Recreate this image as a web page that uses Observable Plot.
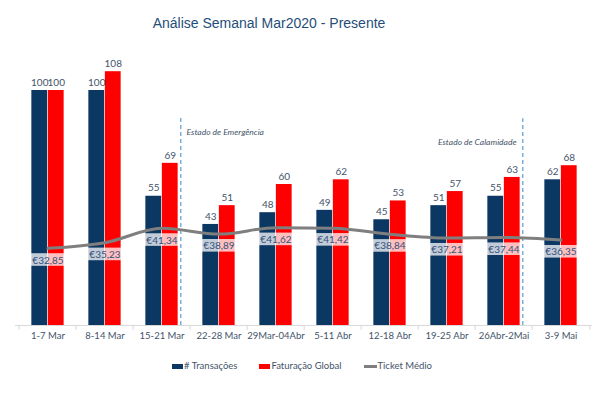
<!DOCTYPE html>
<html><head><meta charset="utf-8">
<script src="https://cdn.jsdelivr.net/npm/d3@7"></script>
<script src="https://cdn.jsdelivr.net/npm/@observablehq/plot@0.6"></script>
<style>
body{margin:0;background:#fff;width:602px;height:393px;overflow:hidden;position:relative;font-family:Lato,sans-serif;}
#title{position:absolute;left:0;top:13px;width:538px;text-align:center;line-height:20px;font-family:"Liberation Sans",Arial,sans-serif;font-size:14px;color:#1f4e79;}
#chart{position:absolute;left:0;top:40px;}
#legend{position:absolute;left:172px;top:359px;display:flex;align-items:center;font-size:9.5px;color:#44546a;line-height:14px;}
.item{display:flex;align-items:center;margin-right:22px;}
.sw{display:inline-block;width:11px;height:5px;margin-right:1px;}
.ln{display:inline-block;width:13px;height:3px;background:#7f7f7f;margin-right:1px;}
</style></head><body>
<div id="title">Análise Semanal Mar2020 - Presente</div>
<div id="chart"></div>
<div id="legend">
  <div class="item"><span class="sw" style="background:#0b3763"></span># Transações</div>
  <div class="item"><span class="sw" style="background:#ff0000"></span>Faturação Global</div>
  <div class="item"><span class="ln"></span>Ticket Médio</div>
</div>
<script>
const weeks = ["1-7 Mar","8-14 Mar","15-21 Mar","22-28 Mar","29Mar-04Abr","5-11 Abr","12-18 Abr","19-25 Abr","26Abr-2Mai","3-9 Mai"];
const transacoes = [100,100,55,43,48,49,45,51,55,62];
const faturacao = [100,108,69,51,60,62,53,57,63,68];
const ticket = [32.85,35.23,41.34,38.89,41.62,41.42,38.84,37.21,37.44,36.35];
const marcoWeeks = ["15-21 Mar","26Abr-2Mai"];
const marcoLabels = ["Estado de Emergência","Estado de Calamidade"];
const marcoTop = [88.5,88];
const marcoLevel = [82.3,78];

const data = weeks.map((w,i)=>({week:w, trans:transacoes[i], fat:faturacao[i], ticket:ticket[i]}));
const marcos = marcoWeeks.map((w,i)=>({week:w, label:marcoLabels[i], top:marcoTop[i], level:marcoLevel[i]}));

const navy = "#0b3763", red = "#ff0000", labelColor = "#44546a";
const band = 57.7, barW = 16.5, outer = (band - 2*barW)/2;

const plot = Plot.plot({
  width: 602, height: 305,
  marginTop: 3, marginBottom: 20, marginLeft: 15, marginRight: 10,
  style: {fontFamily: "Lato, sans-serif", background: "transparent", overflow: "visible"},
  x: {type: "band", domain: weeks, padding: 0, axis: null, label: null},
  y: {domain: [0,120], axis: null},
  marks: [
    Plot.barY(data, {x:"week", y:"trans", fill:navy, insetLeft: outer, insetRight: outer+barW}),
    Plot.barY(data, {x:"week", y:"fat", fill:red, insetLeft: outer+barW, insetRight: outer}),
    Plot.ruleY([0], {stroke:"#d9d9d9"}),
    Plot.ruleX(weeks, {x: d=>d, dx: -band/2, y1: 0, y2: -2.1, stroke:"#d9d9d9"}),
    Plot.ruleX(weeks.slice(-1), {x: d=>d, dx: band/2, y1: 0, y2: -2.1, stroke:"#d9d9d9"}),
    Plot.axisX({tickSize:0, tickPadding:7, fontSize:9.5, fill:labelColor, label:null}),
    Plot.ruleX(marcos, {x:"week", dx: barW+2.3, y1: 0, y2: "top", stroke:"#5b9bd5", strokeWidth:1.2, strokeDasharray:"4,3"}),
    Plot.text(marcos.slice(0,1), {x:"week", y:"level", dx: barW+8, text:"label", textAnchor:"start", fontStyle:"italic", fontSize:8.5, fill:labelColor}),
    Plot.text(marcos.slice(1), {x:"week", y:"level", dx: barW-4, text:"label", textAnchor:"end", fontStyle:"italic", fontSize:8.5, fill:labelColor}),
    Plot.text(data, {x:"week", y:"trans", dx: -barW/2, dy: -8, text: d=>String(d.trans), fontSize:10, fill:labelColor}),
    Plot.text(data, {x:"week", y:"fat", dx: barW/2, dy: -8, text: d=>String(d.fat), fontSize:10, fill:labelColor}),
    Plot.line(data, {x:"week", y:"ticket", stroke:"#7f7f7f", strokeWidth:3, curve:"monotone-x"}),
    Plot.text(data, {x:"week", y:"ticket", dy: 12, text: d=>"€"+d.ticket.toFixed(2).replace(".",","), fontSize:10, fill:"#34507a", ariaDescription:"ticket-labels"})
  ]
});
document.getElementById("chart").appendChild(plot);

// light boxes behind ticket labels
const g = plot.querySelector('g[aria-description="ticket-labels"]');
if (g) {
  g.querySelectorAll("text").forEach(t => {
    const b = t.getBBox();
    const r = document.createElementNS("http://www.w3.org/2000/svg","rect");
    r.setAttribute("x", b.x - 1.5); r.setAttribute("y", b.y - 0.3);
    r.setAttribute("width", b.width + 3); r.setAttribute("height", b.height + 0.6);
    r.setAttribute("fill", "#ffffff"); r.setAttribute("fill-opacity", "0.75");
    const tr = t.getAttribute("transform");
    if (tr) r.setAttribute("transform", tr);
    t.parentNode.insertBefore(r, t);
  });
}
</script>
</body></html>
